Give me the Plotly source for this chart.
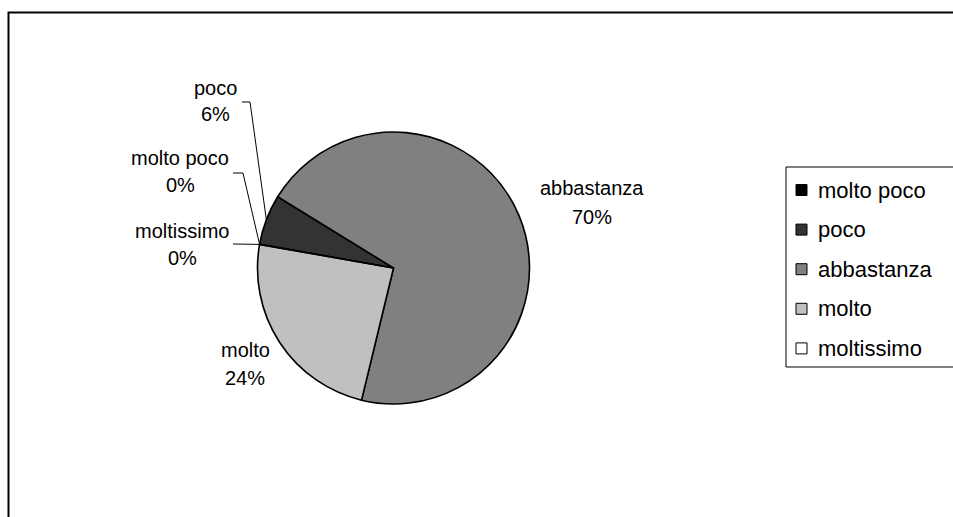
import math
import plotly.graph_objects as go

# ---- data ----
categories = ["molto poco", "poco", "abbastanza", "molto", "moltissimo"]
values = [0, 6, 70, 24, 0]
colors = ["#000000", "#333333", "#808080", "#c0c0c0", "#ffffff"]

W, H = 953, 517
FONT = "Liberation Sans, Arial, sans-serif"

def px(x):
    return x / W

def py(y):
    return 1 - y / H

def path_of(pts):
    return "M " + " L ".join(f"{px(a):.5f},{py(b):.5f}" for a, b in pts)

# pie geometry (pixels in the window)
cx, cy, r = 393.5, 268.0, 136.0
rotation = 280

fig = go.Figure()
fig.add_trace(go.Pie(
    labels=categories,
    values=values,
    sort=False,
    direction="clockwise",
    rotation=rotation,
    marker=dict(colors=colors, line=dict(color="#000000", width=1.6)),
    textinfo="none",
    hoverinfo="label+percent",
    showlegend=False,
    domain=dict(x=[px(cx - r), px(cx + r)], y=[py(cy + r), py(cy - r)]),
))

# mid-angle of each slice on the pie edge (from data)
total = sum(values)
edge = {}
acc = rotation
for cat, v in zip(categories, values):
    ang = acc + 360 * v / total / 2
    a = math.radians(ang)
    edge[cat] = (cx + r * math.sin(a), cy - r * math.cos(a))
    acc += 360 * v / total

shapes = []
annotations = []

# outer frame (only left and top edges are inside the window)
shapes.append(dict(type="path", xref="paper", yref="paper",
                   path=path_of([(8.5, H + 60), (8.5, 12.5), (W + 60, 12.5)]),
                   line=dict(color="#000000", width=2)))

# data labels (name + percent) and leader lines
label_pos = {
    "poco": (215, 88, 114, [(242, 102), (250, 102)]),
    "molto poco": (180, 158, 185, [(233, 173), (243, 173)]),
    "abbastanza": (592, 188, 217, None),
    "molto": (245, 350, 378, None),
    "moltissimo": (182, 231, 258, [(233, 244)]),
}
for cat, v in zip(categories, values):
    x, y1, y2, leader = label_pos[cat]
    annotations.append(dict(x=px(x), y=py(y1), xref="paper", yref="paper",
                            text=cat, showarrow=False, xanchor="center", yanchor="middle",
                            font=dict(family=FONT, size=20, color="#000000")))
    annotations.append(dict(x=px(x), y=py(y2), xref="paper", yref="paper",
                            text=f"{v}%", showarrow=False, xanchor="center", yanchor="middle",
                            font=dict(family=FONT, size=20, color="#000000")))
    if leader:
        shapes.append(dict(type="path", xref="paper", yref="paper",
                           path=path_of(leader + [edge[cat]]),
                           line=dict(color="#000000", width=1)))

# legend (manual; right edge lies outside the window)
shapes.append(dict(type="path", xref="paper", yref="paper",
                   path=path_of([(W + 60, 167), (786, 167), (786, 367), (W + 60, 367)]),
                   line=dict(color="#000000", width=1)))
for i, (cat, col) in enumerate(zip(categories, colors)):
    yy = 190 + i * 39.6
    shapes.append(dict(type="rect", xref="paper", yref="paper",
                       x0=px(796), y0=py(yy - 5.5), x1=px(807), y1=py(yy + 5.5),
                       line=dict(color="#000000", width=1), fillcolor=col))
    annotations.append(dict(x=px(816), y=py(yy), xref="paper", yref="paper",
                            text=cat, showarrow=False, xanchor="left", yanchor="middle",
                            font=dict(family=FONT, size=22, color="#000000")))

fig.update_layout(
    width=W, height=H,
    margin=dict(l=0, r=0, t=0, b=0),
    paper_bgcolor="#ffffff",
    plot_bgcolor="#ffffff",
    shapes=shapes,
    annotations=annotations,
)

fig.write_html(
    "out.html",
    config={"displayModeBar": False},
    post_script="document.body.style.margin='0px';",
)
